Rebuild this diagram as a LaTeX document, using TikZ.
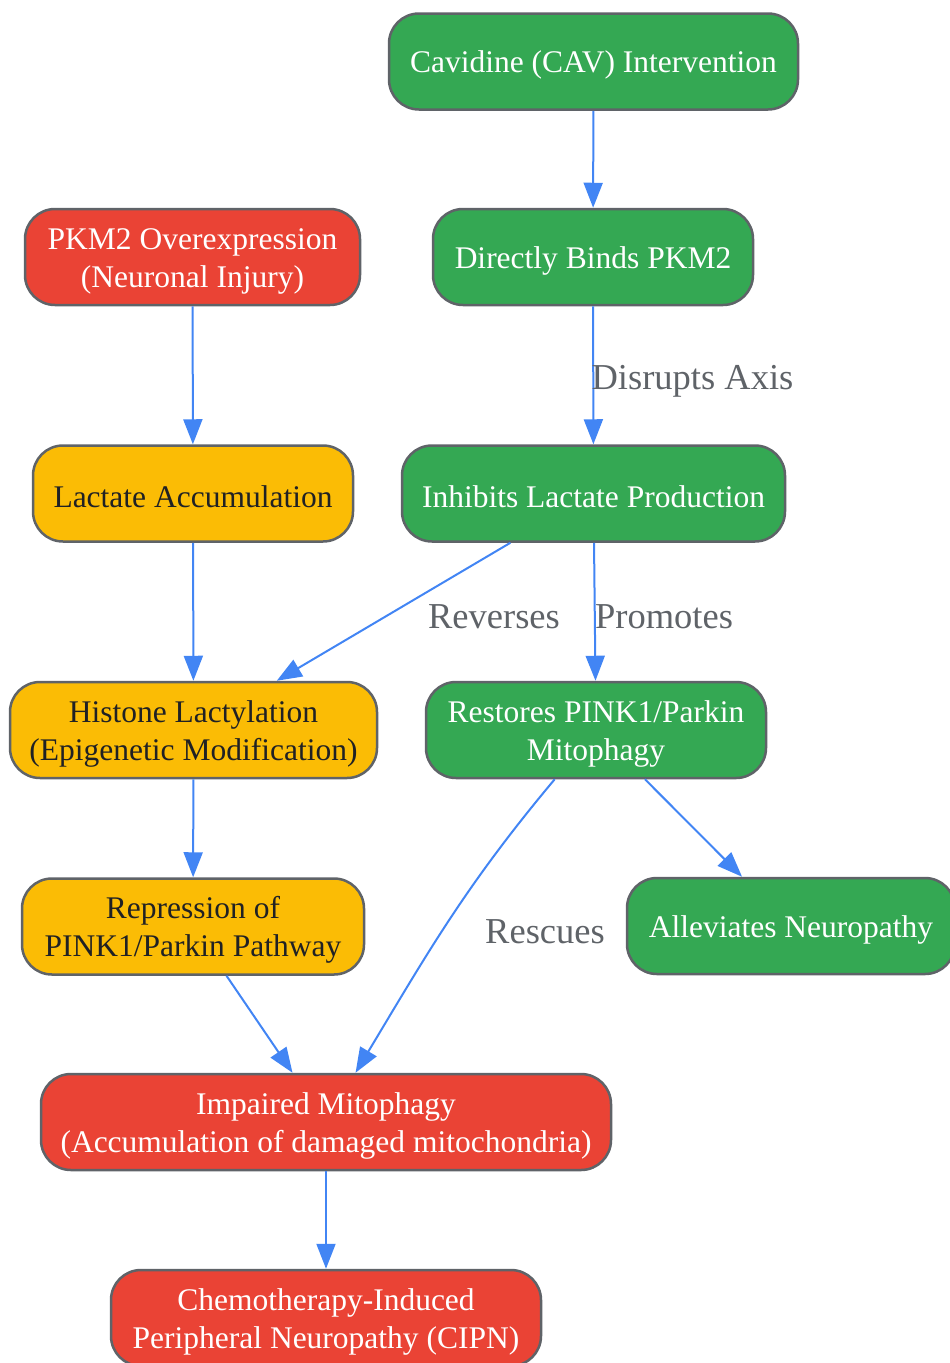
\documentclass[tikz,border=0pt]{standalone}
\usepackage{fontspec}
\setmainfont{Liberation Serif}
\usetikzlibrary{arrows.meta}
\definecolor{gfill}{HTML}{34A853}
\definecolor{rfill}{HTML}{EA4335}
\definecolor{yfill}{HTML}{FBBC05}
\definecolor{bord}{HTML}{5F6368}
\definecolor{edge}{HTML}{4285F4}
\definecolor{lbl}{HTML}{5F6368}
\definecolor{dark}{HTML}{202124}
\newcommand{\topstrut}{\rule{0pt}{29pt}}
\tikzset{
  box/.style={draw=bord, line width=2.5pt, rounded corners=30pt, minimum height=96pt,
    align=center, inner sep=0pt, font=\fontsize{31.5}{38}\selectfont},
  gbox/.style={box, fill=gfill, text=white},
  rbox/.style={box, fill=rfill, text=white},
  ybox/.style={box, fill=yfill, text=dark},
  conn/.style={draw=edge, line width=2pt, -{Triangle[length=25pt,width=19pt]}},
  elabel/.style={text=lbl, font=\fontsize{36.5}{40}\selectfont, inner sep=0pt}
}
\begin{document}
\begin{tikzpicture}[x=1pt,y=1pt]
\useasboundingbox (0,0) rectangle (950,-1363);
\clip (0,0) rectangle (950,-1363);
\node[gbox, minimum width=409pt] (cav) at (593.5,-61.5) {\topstrut Cavidine (CAV) Intervention};
\node[gbox, minimum width=320pt] (bind) at (593,-257) {\topstrut Directly Binds PKM2};
\node[rbox, minimum width=335pt] (pkm) at (192.5,-257) {\topstrut PKM2 Overexpression\\(Neuronal Injury)};
\node[ybox, minimum width=320pt] (lac) at (193,-493.5) {\topstrut Lactate Accumulation};
\node[gbox, minimum width=383pt] (inh) at (593.5,-493.5) {\topstrut Inhibits Lactate Production};
\node[ybox, minimum width=367pt] (his) at (193.5,-730) {\topstrut Histone Lactylation\\(Epigenetic Modification)};
\node[gbox, minimum width=340pt] (rest) at (596,-730) {\topstrut Restores PINK1/Parkin\\Mitophagy};
\node[ybox, minimum width=342pt] (rep) at (193,-926.5) {\topstrut Repression of\\PINK1/Parkin Pathway};
\node[gbox, minimum width=328pt] (alle) at (791,-926) {\topstrut Alleviates Neuropathy};
\node[rbox, minimum width=570pt] (imp) at (326,-1122) {\topstrut Impaired Mitophagy\\(Accumulation of damaged mitochondria)};
\node[rbox, minimum width=430pt] (cipn) at (326,-1318) {\topstrut Chemotherapy-Induced\\Peripheral Neuropathy (CIPN)};

\draw[conn] (cav) -- (bind);
\draw[conn] (pkm) -- (lac);
\draw[conn] (bind) -- (inh);
\draw[conn] (lac) -- (his);
\draw[conn] (inh) -- (his);
\draw[conn] (inh) -- (rest);
\draw[conn] (his) -- (rep);
\draw[conn] (rest) -- (alle);
\draw[conn] (rest) to[out=230,in=59] (imp);
\draw[conn] (rep) -- (imp);
\draw[conn] (imp) -- (cipn);

\node[elabel] (l1) at (692.5,-381) {Disrupts Axis};
\node[elabel] (l2) at (494,-617) {Reverses};
\node[elabel] (l3) at (664,-617) {Promotes};
\node[elabel] (l4) at (545,-932) {Rescues};
\end{tikzpicture}
\end{document}
